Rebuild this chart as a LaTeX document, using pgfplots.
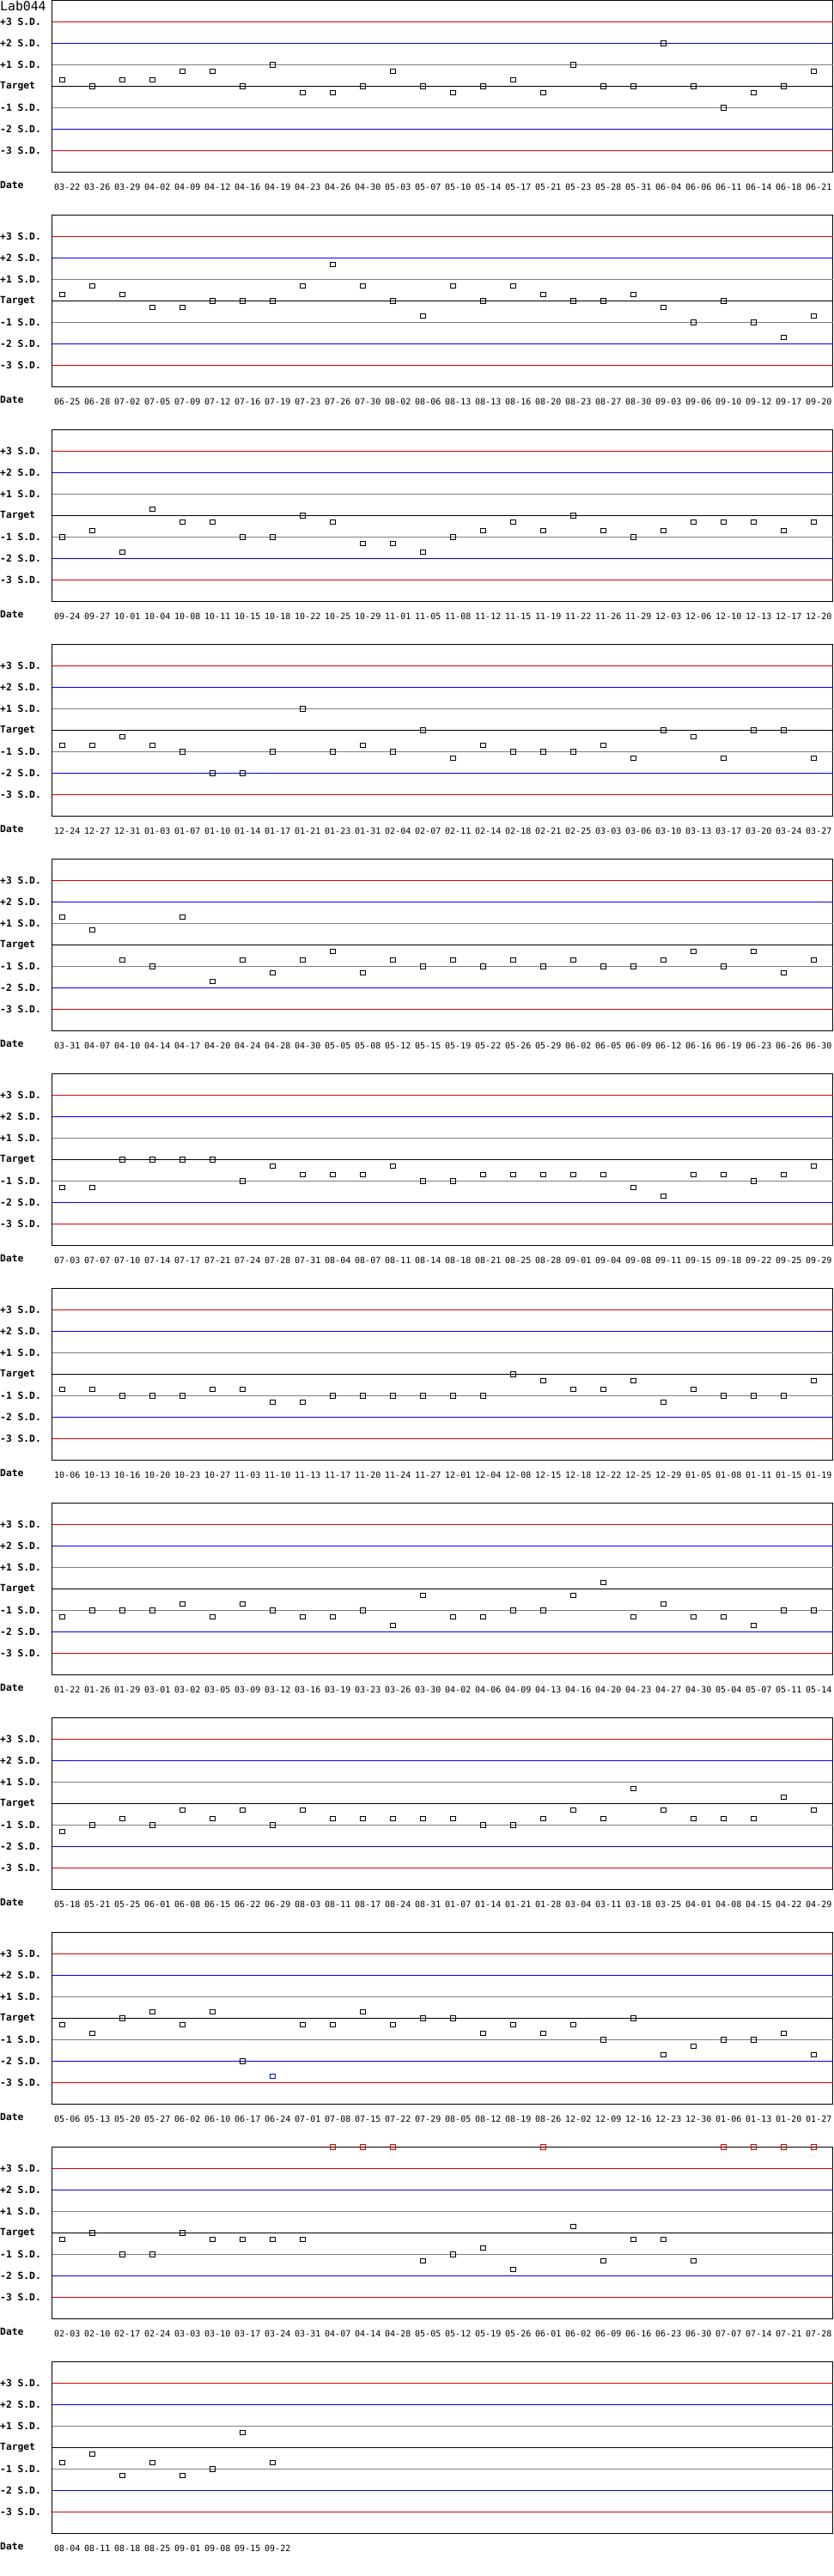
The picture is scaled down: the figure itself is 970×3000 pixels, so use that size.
\documentclass[border=0pt]{standalone}
\usepackage{fontspec}
\usepackage{pgfplots}
\usepackage{pgfplotstable}
\pgfplotsset{compat=1.18}
\newfontfamily\ljmono{DejaVu Sans Mono}
\definecolor{ljred}{RGB}{220,0,0}
\definecolor{ljblue}{RGB}{0,0,255}
\definecolor{ljgray}{RGB}{128,128,128}
\newcommand{\tickfont}{\ljmono\fontsize{10}{12}\selectfont}
\newcommand{\sdfont}{\ljmono\bfseries\fontsize{11.3}{13}\selectfont}

% i = slot, d = date label, v = value in S.D., c = class (k black, r off scale, b beyond 2 S.D.)
\pgfplotstableread{
i d v c
0 03-22 0.3 k
1 03-26 0 k
2 03-29 0.3 k
3 04-02 0.3 k
4 04-09 0.7 k
5 04-12 0.7 k
6 04-16 0 k
7 04-19 1 k
8 04-23 -0.3 k
9 04-26 -0.3 k
10 04-30 0 k
11 05-03 0.7 k
12 05-07 0 k
13 05-10 -0.3 k
14 05-14 0 k
15 05-17 0.3 k
16 05-21 -0.3 k
17 05-23 1 k
18 05-28 0 k
19 05-31 0 k
20 06-04 2 k
21 06-06 0 k
22 06-11 -1 k
23 06-14 -0.3 k
24 06-18 0 k
25 06-21 0.7 k
}\pA
\pgfplotstableread{
i d v c
0 06-25 0.3 k
1 06-28 0.7 k
2 07-02 0.3 k
3 07-05 -0.3 k
4 07-09 -0.3 k
5 07-12 0 k
6 07-16 0 k
7 07-19 0 k
8 07-23 0.7 k
9 07-26 1.7 k
10 07-30 0.7 k
11 08-02 0 k
12 08-06 -0.7 k
13 08-13 0.7 k
14 08-13 0 k
15 08-16 0.7 k
16 08-20 0.3 k
17 08-23 0 k
18 08-27 0 k
19 08-30 0.3 k
20 09-03 -0.3 k
21 09-06 -1 k
22 09-10 0 k
23 09-12 -1 k
24 09-17 -1.7 k
25 09-20 -0.7 k
}\pB
\pgfplotstableread{
i d v c
0 09-24 -1 k
1 09-27 -0.7 k
2 10-01 -1.7 k
3 10-04 0.3 k
4 10-08 -0.3 k
5 10-11 -0.3 k
6 10-15 -1 k
7 10-18 -1 k
8 10-22 0 k
9 10-25 -0.3 k
10 10-29 -1.3 k
11 11-01 -1.3 k
12 11-05 -1.7 k
13 11-08 -1 k
14 11-12 -0.7 k
15 11-15 -0.3 k
16 11-19 -0.7 k
17 11-22 0 k
18 11-26 -0.7 k
19 11-29 -1 k
20 12-03 -0.7 k
21 12-06 -0.3 k
22 12-10 -0.3 k
23 12-13 -0.3 k
24 12-17 -0.7 k
25 12-20 -0.3 k
}\pC
\pgfplotstableread{
i d v c
0 12-24 -0.7 k
1 12-27 -0.7 k
2 12-31 -0.3 k
3 01-03 -0.7 k
4 01-07 -1 k
5 01-10 -2 k
6 01-14 -2 k
7 01-17 -1 k
8 01-21 1 k
9 01-23 -1 k
10 01-31 -0.7 k
11 02-04 -1 k
12 02-07 0 k
13 02-11 -1.3 k
14 02-14 -0.7 k
15 02-18 -1 k
16 02-21 -1 k
17 02-25 -1 k
18 03-03 -0.7 k
19 03-06 -1.3 k
20 03-10 0 k
21 03-13 -0.3 k
22 03-17 -1.3 k
23 03-20 0 k
24 03-24 0 k
25 03-27 -1.3 k
}\pD
\pgfplotstableread{
i d v c
0 03-31 1.3 k
1 04-07 0.7 k
2 04-10 -0.7 k
3 04-14 -1 k
4 04-17 1.3 k
5 04-20 -1.7 k
6 04-24 -0.7 k
7 04-28 -1.3 k
8 04-30 -0.7 k
9 05-05 -0.3 k
10 05-08 -1.3 k
11 05-12 -0.7 k
12 05-15 -1 k
13 05-19 -0.7 k
14 05-22 -1 k
15 05-26 -0.7 k
16 05-29 -1 k
17 06-02 -0.7 k
18 06-05 -1 k
19 06-09 -1 k
20 06-12 -0.7 k
21 06-16 -0.3 k
22 06-19 -1 k
23 06-23 -0.3 k
24 06-26 -1.3 k
25 06-30 -0.7 k
}\pE
\pgfplotstableread{
i d v c
0 07-03 -1.3 k
1 07-07 -1.3 k
2 07-10 0 k
3 07-14 0 k
4 07-17 0 k
5 07-21 0 k
6 07-24 -1 k
7 07-28 -0.3 k
8 07-31 -0.7 k
9 08-04 -0.7 k
10 08-07 -0.7 k
11 08-11 -0.3 k
12 08-14 -1 k
13 08-18 -1 k
14 08-21 -0.7 k
15 08-25 -0.7 k
16 08-28 -0.7 k
17 09-01 -0.7 k
18 09-04 -0.7 k
19 09-08 -1.3 k
20 09-11 -1.7 k
21 09-15 -0.7 k
22 09-18 -0.7 k
23 09-22 -1 k
24 09-25 -0.7 k
25 09-29 -0.3 k
}\pF
\pgfplotstableread{
i d v c
0 10-06 -0.7 k
1 10-13 -0.7 k
2 10-16 -1 k
3 10-20 -1 k
4 10-23 -1 k
5 10-27 -0.7 k
6 11-03 -0.7 k
7 11-10 -1.3 k
8 11-13 -1.3 k
9 11-17 -1 k
10 11-20 -1 k
11 11-24 -1 k
12 11-27 -1 k
13 12-01 -1 k
14 12-04 -1 k
15 12-08 0 k
16 12-15 -0.3 k
17 12-18 -0.7 k
18 12-22 -0.7 k
19 12-25 -0.3 k
20 12-29 -1.3 k
21 01-05 -0.7 k
22 01-08 -1 k
23 01-11 -1 k
24 01-15 -1 k
25 01-19 -0.3 k
}\pG
\pgfplotstableread{
i d v c
0 01-22 -1.3 k
1 01-26 -1 k
2 01-29 -1 k
3 03-01 -1 k
4 03-02 -0.7 k
5 03-05 -1.3 k
6 03-09 -0.7 k
7 03-12 -1 k
8 03-16 -1.3 k
9 03-19 -1.3 k
10 03-23 -1 k
11 03-26 -1.7 k
12 03-30 -0.3 k
13 04-02 -1.3 k
14 04-06 -1.3 k
15 04-09 -1 k
16 04-13 -1 k
17 04-16 -0.3 k
18 04-20 0.3 k
19 04-23 -1.3 k
20 04-27 -0.7 k
21 04-30 -1.3 k
22 05-04 -1.3 k
23 05-07 -1.7 k
24 05-11 -1 k
25 05-14 -1 k
}\pH
\pgfplotstableread{
i d v c
0 05-18 -1.3 k
1 05-21 -1 k
2 05-25 -0.7 k
3 06-01 -1 k
4 06-08 -0.3 k
5 06-15 -0.7 k
6 06-22 -0.3 k
7 06-29 -1 k
8 08-03 -0.3 k
9 08-11 -0.7 k
10 08-17 -0.7 k
11 08-24 -0.7 k
12 08-31 -0.7 k
13 01-07 -0.7 k
14 01-14 -1 k
15 01-21 -1 k
16 01-28 -0.7 k
17 03-04 -0.3 k
18 03-11 -0.7 k
19 03-18 0.7 k
20 03-25 -0.3 k
21 04-01 -0.7 k
22 04-08 -0.7 k
23 04-15 -0.7 k
24 04-22 0.3 k
25 04-29 -0.3 k
}\pI
\pgfplotstableread{
i d v c
0 05-06 -0.3 k
1 05-13 -0.7 k
2 05-20 0 k
3 05-27 0.3 k
4 06-02 -0.3 k
5 06-10 0.3 k
6 06-17 -2 k
7 06-24 -2.7 b
8 07-01 -0.3 k
9 07-08 -0.3 k
10 07-15 0.3 k
11 07-22 -0.3 k
12 07-29 0 k
13 08-05 0 k
14 08-12 -0.7 k
15 08-19 -0.3 k
16 08-26 -0.7 k
17 12-02 -0.3 k
18 12-09 -1 k
19 12-16 0 k
20 12-23 -1.7 k
21 12-30 -1.3 k
22 01-06 -1 k
23 01-13 -1 k
24 01-20 -0.7 k
25 01-27 -1.7 k
}\pJ
\pgfplotstableread{
i d v c
0 02-03 -0.3 k
1 02-10 0 k
2 02-17 -1 k
3 02-24 -1 k
4 03-03 0 k
5 03-10 -0.3 k
6 03-17 -0.3 k
7 03-24 -0.3 k
8 03-31 -0.3 k
9 04-07 4 r
10 04-14 4 r
11 04-28 4 r
12 05-05 -1.3 k
13 05-12 -1 k
14 05-19 -0.7 k
15 05-26 -1.7 k
16 06-01 4 r
17 06-02 0.3 k
18 06-09 -1.3 k
19 06-16 -0.3 k
20 06-23 -0.3 k
21 06-30 -1.3 k
22 07-07 4 r
23 07-14 4 r
24 07-21 4 r
25 07-28 4 r
}\pK
\pgfplotstableread{
i d v c
0 08-04 -0.7 k
1 08-11 -0.3 k
2 08-18 -1.3 k
3 08-25 -0.7 k
4 09-01 -1.3 k
5 09-08 -1 k
6 09-15 0.7 k
7 09-22 -0.7 k
}\pL

\pgfplotsset{
  lj/.style={
    anchor=north west,
    width=909pt, height=200pt, scale only axis,
    xmin=-0.342857, xmax=25.628571,
    ymin=-4, ymax=4,
    axis line style={black, line width=1pt},
    major tick length=0pt,
    tick style={draw=none},
    ytick={-3,-2,-1,0,1,2,3},
    yticklabels={-3 S.D.,-2 S.D.,-1 S.D.,Target,+1 S.D.,+2 S.D.,+3 S.D.},
    yticklabel style={anchor=west, xshift=-60.5pt, inner sep=0pt, font=\sdfont},
    xticklabel style={anchor=base west, xshift=-9.5pt, yshift=-20.5pt, inner sep=0pt, font=\tickfont},
    clip=false,
  },
}

% one control chart; #1 table, #2 row of the chart, #3 last slot
% (offset by half a point so that 1pt lines fall on whole pixels)
\newcommand{\ljpanel}[3]{%
  \begin{axis}[lj, at={(60.5pt,-250pt*#2-0.5pt)}, xtick={0,...,#3}, xticklabels from table={#1}{d}]
    \addplot[ljred, line width=1pt] coordinates {(-0.342857,3) (25.628571,3)};
    \addplot[ljblue, line width=1pt] coordinates {(-0.342857,2) (25.628571,2)};
    \addplot[ljgray, line width=1pt] coordinates {(-0.342857,1) (25.628571,1)};
    \addplot[black, line width=1pt] coordinates {(-0.342857,0) (25.628571,0)};
    \addplot[ljgray, line width=1pt] coordinates {(-0.342857,-1) (25.628571,-1)};
    \addplot[ljblue, line width=1pt] coordinates {(-0.342857,-2) (25.628571,-2)};
    \addplot[ljred, line width=1pt] coordinates {(-0.342857,-3) (25.628571,-3)};
    \addplot[scatter, only marks, mark=square, mark size=2.75pt,
      mark options={line width=1pt},
      scatter src=explicit symbolic,
      scatter/classes={k={draw=black}, r={draw=ljred}, b={draw=ljblue}}]
      table[x=i, y=v, meta=c] {#1};
    \node[anchor=base west, inner sep=0pt, font=\sdfont, xshift=-60.5pt, yshift=-19pt]
      at (rel axis cs:0,0) {Date};
  \end{axis}}

\begin{document}
\begin{tikzpicture}
  \useasboundingbox (0,0) rectangle (970pt,-3000pt);
  \node[anchor=base west, inner sep=0pt, font=\ljmono\fontsize{14.8}{16}\selectfont]
    at (0,-13pt) {Lab044};
  \ljpanel{\pA}{0}{25}
  \ljpanel{\pB}{1}{25}
  \ljpanel{\pC}{2}{25}
  \ljpanel{\pD}{3}{25}
  \ljpanel{\pE}{4}{25}
  \ljpanel{\pF}{5}{25}
  \ljpanel{\pG}{6}{25}
  \ljpanel{\pH}{7}{25}
  \ljpanel{\pI}{8}{25}
  \ljpanel{\pJ}{9}{25}
  \ljpanel{\pK}{10}{25}
  \ljpanel{\pL}{11}{7}
\end{tikzpicture}
\end{document}
